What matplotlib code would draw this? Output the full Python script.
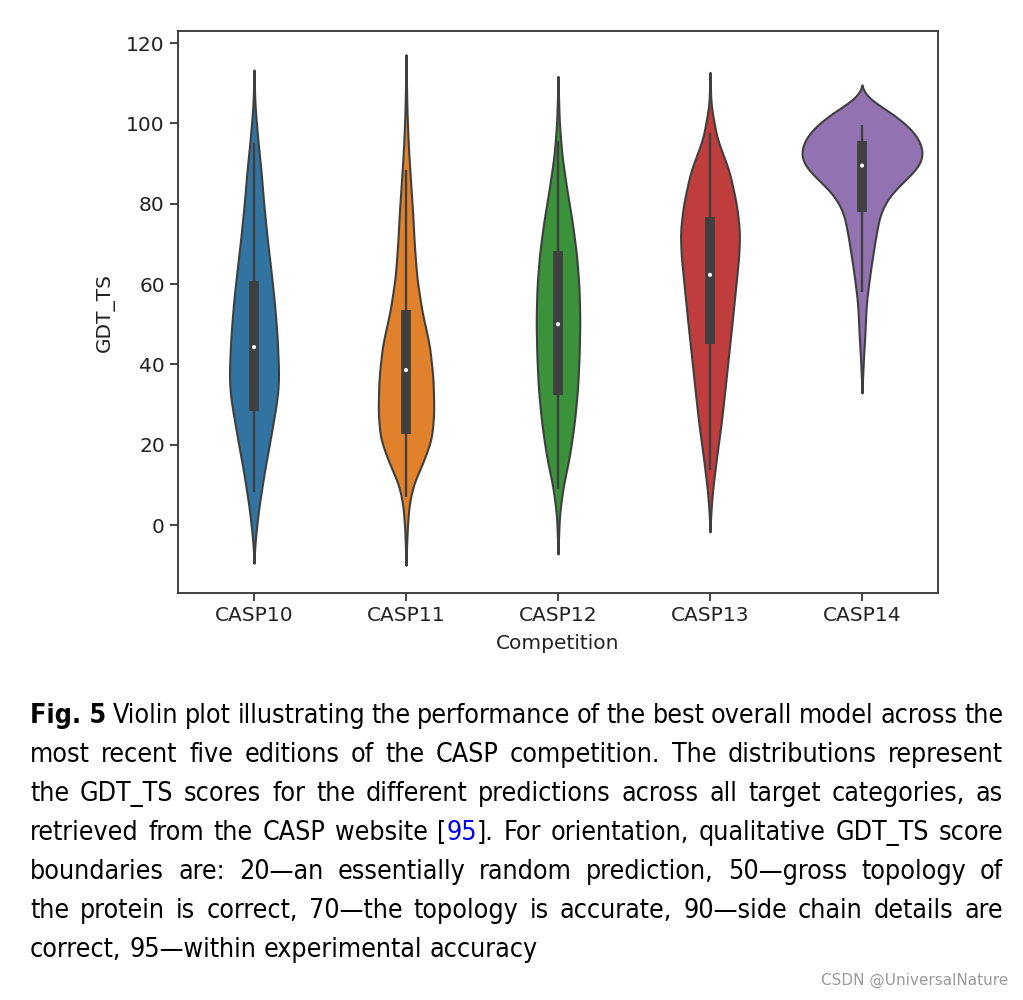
import numpy as np
import matplotlib
matplotlib.use("Agg")
import matplotlib.pyplot as plt
from matplotlib import font_manager

# ---------------- data ----------------
categories = ["CASP10", "CASP11", "CASP12", "CASP13", "CASP14"]

# density profiles (score value, relative density)
casp10_y = [113.3, 104.6, 96.3, 88.0, 79.7, 71.4, 63.1, 54.8, 46.5, 38.2, 34.0, 29.9, 21.6, 13.3, 5.0, -0.8, -4.9, -9.5]
casp10_d = [0, 1.0, 3.7, 7.0, 9.7, 13.0, 16.8, 20.3, 22.8, 24.2, 23.8, 21.8, 16.2, 10.3, 5.2, 2.5, 1.0, 0]

casp11_y = [117.1, 102.9, 94.6, 86.3, 78.0, 69.7, 61.4, 53.1, 44.8, 36.5, 28.2, 21.6, 15.8, 10.0, 5.0, -0.8, -10.0]
casp11_d = [0, 1.0, 2.3, 4.3, 6.5, 8.2, 10.7, 15.7, 23.0, 26.5, 27.3, 25.2, 17.0, 7.0, 3.0, 1.3, 0]

casp12_y = [111.7, 100.5, 92.2, 83.9, 75.5, 67.2, 59.0, 50.6, 42.3, 34.0, 25.7, 17.4, 9.1, 2.5, -7.2]
casp12_d = [0, 1.3, 3.8, 8.5, 14.0, 18.3, 20.7, 21.5, 20.8, 19.3, 16.2, 11.5, 4.8, 1.5, 0]

casp13_y = [112.7, 104.6, 96.3, 88.0, 79.7, 73.0, 67.2, 59.0, 50.6, 42.3, 34.0, 25.7, 17.4, 9.1, 4.1, -1.7]
casp13_d = [0, 1.0, 6.8, 19.0, 26.0, 29.0, 28.2, 25.0, 21.7, 18.2, 14.8, 11.2, 6.8, 2.8, 1.2, 0]

casp14_y = [109.6, 106.7, 103.4, 100.0, 96.7, 93.4, 90.9, 88.4, 85.1, 81.8, 77.6, 71.8, 63.5, 55.2, 46.9, 41.8, 37.3, 32.9]
casp14_d = [0, 3.5, 24.8, 43.0, 54.8, 59.8, 59.3, 53.0, 39.0, 26.5, 18.2, 13.8, 8.7, 4.5, 3.0, 1.7, 0.9, 0]

# box-plot statistics
q1 = [28.4, 22.6, 32.4, 45.0, 78.0]
median = [44.3, 38.6, 50.0, 62.3, 89.5]
q3 = [60.8, 53.5, 68.2, 76.6, 95.5]
whisker_low = [8.3, 7.0, 9.1, 13.7, 58.1]
whisker_high = [95.1, 88.4, 95.5, 97.6, 99.6]

colors = ["#3274a1", "#e1812c", "#3a923a", "#c03d3e", "#9372b2"]

profiles_y = [casp10_y, casp11_y, casp12_y, casp13_y, casp14_y]
profiles_d = [casp10_d, casp11_d, casp12_d, casp13_d, casp14_d]


def smooth_profile(ys, ds, step=0.1, sigma=1.8):
    """Resample the read-off profile finely and soften corners (drawing only)."""
    ys = np.asarray(ys, float)
    ds = np.asarray(ds, float)
    o = np.argsort(ys)
    ys, ds = ys[o], ds[o]
    grid = np.arange(ys[0], ys[-1] + step / 2, step)
    lin = np.interp(grid, ys, ds)
    k = np.arange(-4 * sigma, 4 * sigma + step / 2, step)
    ker = np.exp(-0.5 * (k / sigma) ** 2)
    ker /= ker.sum()
    pad = len(k) // 2
    padded = np.concatenate([np.zeros(pad), lin, np.zeros(pad)])
    sm = np.convolve(padded, ker, mode="same")[pad:pad + len(grid)]
    sm *= ds.max() / sm.max()
    sm = sm - np.linspace(sm[0], sm[-1], len(sm))
    return grid, np.clip(sm, 0, None)


# ---------------- figure ----------------
W, H = 1023, 1000
fig = plt.figure(figsize=(W / 100, H / 100), dpi=100)
ax = fig.add_axes([178 / W, 1 - 593 / H, (938 - 178) / W, (593 - 31) / H])

gray = "#3f3f3f"
dmax = max(max(d) for d in profiles_d)
half_width = 0.4
for i, (ys, ds) in enumerate(zip(profiles_y, profiles_d)):
    yy, dd = smooth_profile(ys, ds)
    w = dd / dmax * half_width
    ax.fill_betweenx(yy, i - w, i + w, facecolor=colors[i], edgecolor=gray,
                     linewidth=1.5, zorder=1)
    ax.plot([i, i], [whisker_low[i], whisker_high[i]], color=gray, lw=1.7,
            solid_capstyle="butt", zorder=2)
    ax.plot([i, i], [q1[i], q3[i]], color=gray, lw=7,
            solid_capstyle="butt", zorder=2)
    ax.scatter([i], [median[i]], s=9, color="white", edgecolors="none", zorder=3)

ax.set_xlim(-0.5, 4.5)
ax.set_ylim(-16.9, 123)
ax.set_xticks(range(len(categories)))
ax.set_xticklabels(categories)
ax.set_yticks([0, 20, 40, 60, 80, 100, 120])
ax.tick_params(labelsize=14.5, length=6, width=1.2, colors="#222222")
for s in ax.spines.values():
    s.set_linewidth(1.3)
    s.set_color("#333333")
ax.set_xlabel("Competition", fontsize=14.5, labelpad=6, color="#222222")
ax.set_ylabel("GDT_TS", fontsize=14.5, labelpad=8, color="#222222")

# ---------------- caption ----------------
names = {f.name for f in font_manager.fontManager.ttflist}
cap_family = ["Liberation Sans Narrow"] if "Liberation Sans Narrow" in names else ["DejaVu Sans"]
cap_stretch = "normal" if "Liberation Sans Narrow" in names else "condensed"
cap_size = 19.2

B = "bold"
N = "normal"
BL = "blue"
lines = [
    [[("Fig. 5", B)], [("Violin", N)], [("plot", N)], [("illustrating", N)], [("the", N)],
     [("performance", N)], [("of", N)], [("the", N)], [("best", N)], [("overall", N)],
     [("model", N)], [("across", N)], [("the", N)]],
    "most recent five editions of the CASP competition. The distributions represent",
    "the GDT_TS scores for the different predictions across all target categories, as",
    [[("retrieved", N)], [("from", N)], [("the", N)], [("CASP", N)], [("website", N)],
     [("[", N), ("95", BL), ("].", N)], [("For", N)], [("orientation,", N)],
     [("qualitative", N)], [("GDT_TS", N)], [("score", N)]],
    "boundaries are: 20\u2014an essentially random prediction, 50\u2014gross topology of",
    "the protein is correct, 70\u2014the topology is accurate, 90\u2014side chain details are",
    "correct, 95\u2014within experimental accuracy",
]

x_left, x_right = 30, 1003
base0, step = 723, 39

fig.canvas.draw()
renderer = fig.canvas.get_renderer()
space_obj = fig.text(0, 0, "a a", fontsize=cap_size, family=cap_family, fontstretch=cap_stretch)
aa = fig.text(0, 0, "aa", fontsize=cap_size, family=cap_family, fontstretch=cap_stretch)
sp = space_obj.get_window_extent(renderer).width - aa.get_window_extent(renderer).width
space_obj.remove()
aa.remove()

for li, line in enumerate(lines):
    if isinstance(line, str):
        words = [[(w, N)] for w in line.split(" ")]
    else:
        words = line
    yb = 1 - (base0 + li * step) / H
    objs = []
    widths = []
    for word in words:
        runs = []
        wsum = 0
        for txt, sty in word:
            t = fig.text(0, yb, txt, fontsize=cap_size, family=cap_family,
                         fontstretch=cap_stretch,
                         fontweight="bold" if sty == B else "normal",
                         color="#0000ee" if sty == BL else "black",
                         va="baseline", ha="left")
            bb = t.get_window_extent(renderer)
            runs.append((t, bb.width))
            wsum += bb.width
        objs.append(runs)
        widths.append(wsum)
    total = sum(widths)
    if li < len(lines) - 1:
        gap = (x_right - x_left - total) / (len(words) - 1)
    else:
        gap = sp
    x = x_left
    for runs, wsum in zip(objs, widths):
        xx = x
        for t, wdt in runs:
            t.set_x(xx / W)
            xx += wdt
        x += wsum + gap

fig.text(1008 / W, 1 - 985 / H, "CSDN @UniversalNature", fontsize=11,
         color="#9a9a9a", ha="right", va="baseline")

fig.savefig("out.png", dpi=100)
